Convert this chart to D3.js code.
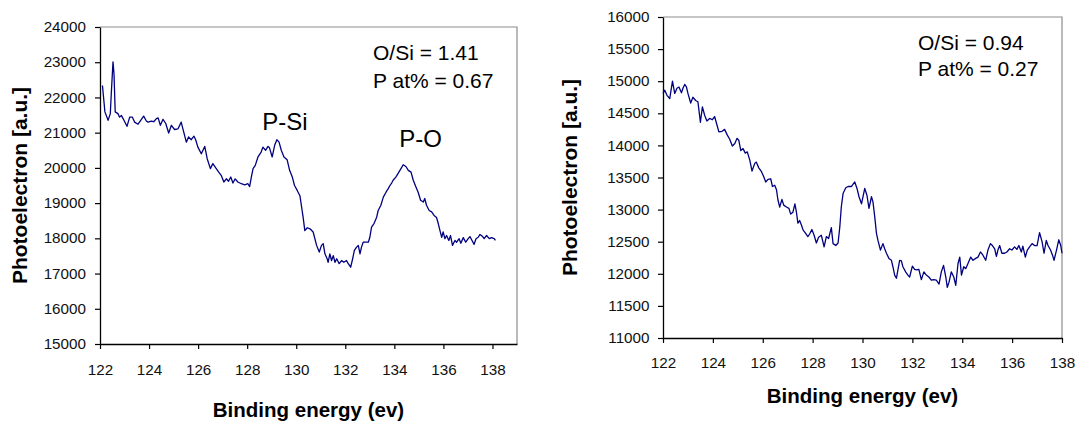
<!DOCTYPE html>
<html>
<head>
<meta charset="utf-8">
<script src="https://cdn.jsdelivr.net/npm/d3@7"></script>
<style>
  body { margin: 0; background: #fff; }
  svg { display: block; font-family: "Liberation Sans", Arial, sans-serif; }
</style>
</head>
<body>
<svg id="chart" width="1078" height="423"></svg>
<script>
// left spectrum (higher P content)
var leftEnergy = [122.10,122.20,122.33,122.42,122.46,122.53,122.57,122.62,122.73,122.80,122.87,122.94,123.10,123.21,123.32,123.41,123.55,123.66,123.78,123.89,123.96,124.09,124.19,124.30,124.37,124.46,124.57,124.68,124.80,124.91,125.04,125.18,125.31,125.38,125.52,125.61,125.72,125.83,125.90,125.99,126.13,126.27,126.37,126.50,126.60,126.74,126.84,126.94,127.05,127.15,127.24,127.33,127.42,127.51,127.62,127.76,127.90,128.03,128.10,128.17,128.24,128.33,128.44,128.57,128.64,128.75,128.85,128.91,129.02,129.12,129.21,129.30,129.39,129.50,129.63,129.73,129.84,129.93,130.04,130.15,130.24,130.28,130.35,130.45,130.56,130.69,130.83,130.94,131.03,131.10,131.17,131.26,131.30,131.37,131.44,131.51,131.58,131.65,131.75,131.85,131.94,132.05,132.12,132.22,132.30,132.37,132.46,132.53,132.60,132.66,132.73,132.84,132.94,133.00,133.07,133.17,133.28,133.34,133.45,133.55,133.66,133.75,133.82,133.89,133.95,134.06,134.16,134.27,134.36,134.47,134.57,134.68,134.77,134.88,134.97,135.07,135.18,135.24,135.31,135.42,135.52,135.62,135.72,135.79,135.86,135.93,135.99,136.06,136.13,136.22,136.29,136.37,136.47,136.54,136.64,136.71,136.81,136.91,137.01,137.08,137.15,137.25,137.33,137.42,137.49,137.60,137.66,137.76,137.87,137.96,138.07,138.12];
var leftCounts = [22340,21590,21350,21540,22110,23010,22680,21590,21540,21440,21490,21400,21180,21440,21440,21300,21240,21350,21470,21330,21300,21330,21310,21400,21420,21210,21380,21260,20990,21210,21090,21110,21300,21110,20730,20880,20800,20900,20800,20590,20400,20610,20260,19980,20120,19980,19880,19790,19600,19690,19620,19740,19570,19690,19600,19550,19520,19550,19470,19740,19980,20070,20310,20450,20590,20500,20610,20570,20310,20640,20800,20730,20500,20310,20230,19930,19740,19500,19360,19210,18790,18600,18220,18300,18270,18180,17800,17610,17800,17850,17560,17420,17320,17560,17370,17510,17320,17420,17280,17370,17320,17370,17280,17180,17420,17660,17750,17800,17560,17750,17890,17890,17890,18030,18320,18420,18600,18790,18940,19170,19310,19410,19500,19570,19650,19740,19850,19980,20090,20040,19930,19880,19650,19460,19310,19080,19030,19130,18940,18790,18750,18650,18590,18420,18220,18030,18180,17990,18080,17940,18080,17800,17940,17890,17990,17860,18020,17890,17990,18050,17960,17830,17990,18030,18110,18050,17990,18080,17990,18020,17990,17940];

// right spectrum
var rightEnergy = [122.00,122.07,122.16,122.27,122.38,122.47,122.56,122.64,122.74,122.80,122.87,122.94,123.00,123.11,123.20,123.31,123.40,123.50,123.58,123.67,123.76,123.87,123.98,124.07,124.17,124.24,124.37,124.47,124.58,124.67,124.78,124.88,124.97,125.04,125.12,125.21,125.30,125.38,125.48,125.57,125.68,125.74,125.84,125.95,126.04,126.12,126.21,126.32,126.39,126.48,126.55,126.61,126.68,126.77,126.84,126.95,127.05,127.12,127.21,127.29,127.35,127.41,127.48,127.55,127.62,127.72,127.81,127.88,127.97,128.06,128.15,128.24,128.35,128.46,128.55,128.64,128.75,128.82,128.93,129.02,129.09,129.15,129.22,129.33,129.42,129.56,129.69,129.78,129.86,129.96,130.09,130.18,130.26,130.36,130.42,130.49,130.56,130.62,130.72,130.82,130.89,130.96,131.06,131.16,131.22,131.29,131.36,131.42,131.49,131.56,131.62,131.73,131.82,131.89,132.00,132.09,132.18,132.26,132.36,132.46,132.56,132.66,132.76,132.85,132.96,133.07,133.16,133.25,133.34,133.40,133.47,133.56,133.66,133.74,133.83,133.90,133.97,134.06,134.14,134.23,134.34,134.43,134.54,134.63,134.73,134.83,134.94,135.03,135.13,135.21,135.30,135.37,135.43,135.50,135.59,135.70,135.79,135.90,135.99,136.10,136.19,136.27,136.37,136.43,136.53,136.61,136.70,136.80,136.90,137.00,137.10,137.20,137.28,137.37,137.44,137.54,137.62,137.68,137.78,137.87,137.95,138.00];
var rightCounts = [14810,14860,14780,14730,15000,14810,14890,14910,14820,14890,14950,14910,14810,14660,14750,14700,14680,14360,14600,14470,14380,14420,14400,14450,14310,14210,14220,14250,14160,14100,13990,14030,14110,14080,13920,13950,13880,13900,13770,13600,13720,13740,13650,13590,13510,13430,13470,13480,13360,13380,13310,13150,13040,13160,13070,13040,13020,12930,12960,13090,12960,12790,12830,12760,12680,12630,12580,12620,12690,12600,12480,12570,12600,12420,12580,12550,12720,12470,12440,12480,12730,13040,13250,13340,13360,13360,13430,13330,13200,13090,13330,13220,13020,13200,13120,12890,12630,12520,12370,12470,12390,12320,12240,12210,12110,11980,11930,12060,12210,12200,12110,12030,11980,11950,12120,12070,12060,12070,11910,12030,11980,11950,11900,11910,11900,11840,12030,12130,11950,11790,11870,12030,11950,11820,12160,12260,11980,12110,12080,12160,12260,12210,12240,12260,12340,12290,12210,12370,12470,12440,12390,12270,12370,12440,12320,12320,12340,12390,12370,12420,12380,12440,12340,12430,12260,12370,12420,12470,12440,12440,12640,12500,12320,12520,12440,12370,12290,12210,12370,12530,12440,12320];

var xTicks = [122, 124, 126, 128, 130, 132, 134, 136, 138];
var leftYTicks = [15000, 16000, 17000, 18000, 19000, 20000, 21000, 22000, 23000, 24000];
var rightYTicks = [11000, 11500, 12000, 12500, 13000, 13500, 14000, 14500, 15000, 15500, 16000];

var leftNotes = ["O/Si = 1.41", "P at% = 0.67"];
var rightNotes = ["O/Si = 0.94", "P at% = 0.27"];
var peakNames = ["P-Si", "P-O"];
var peakEnergy = [129.54, 135.07];
var peakCounts = [21065, 20591];

var yTitle = "Photoelectron [a.u.]";
var xTitle = "Binding energy (ev)";

var svg = d3.select("#chart");

// widen text a little, the source glyphs are stretched sideways
function stretch(sel, k) {
  sel.each(function () {
    var w = this.getComputedTextLength();
    d3.select(this).attr("textLength", w * k).attr("lengthAdjust", "spacingAndGlyphs");
  });
}

function drawPanel(cfg) {
  var box = cfg.box;

  var xScale = d3.scaleLinear().domain(cfg.xDomain).range([box.left, box.right]);
  var yScale = d3.scaleLinear().domain(cfg.yDomain).range([box.bottom, box.top]);

  var g = svg.append("g");

  // grey frame on top and right
  g.append("path")
    .attr("d", "M" + box.left + "," + box.top + "H" + box.right + "V" + box.bottom)
    .attr("fill", "none")
    .attr("stroke", "#8c8c8c")
    .attr("stroke-width", 1.2);

  var yAxis = d3.axisLeft(yScale)
    .tickValues(cfg.yTicks)
    .tickFormat(d3.format("d"))
    .tickSizeInner(5)
    .tickSizeOuter(0)
    .tickPadding(cfg.yPad);

  var yG = g.append("g")
    .attr("transform", "translate(" + box.left + ",0)")
    .call(yAxis);

  var xAxis = d3.axisBottom(xScale)
    .tickValues(xTicks)
    .tickFormat(d3.format("d"))
    .tickSizeInner(5)
    .tickSizeOuter(0)
    .tickPadding(cfg.xPad);

  var xG = g.append("g")
    .attr("transform", "translate(0," + box.bottom + ")")
    .call(xAxis);

  [xG, yG].forEach(function (a) {
    a.select(".domain").attr("stroke", "#000").attr("stroke-width", 1.3);
    a.selectAll(".tick line").attr("stroke", "#000").attr("stroke-width", 1.2);
    a.selectAll(".tick text")
      .attr("fill", "#111")
      .style("font-family", "'Liberation Sans', Arial, sans-serif")
      .style("font-size", "14.5px");
    stretch(a.selectAll(".tick text"), 1.05);
  });

  var line = d3.line()
    .x(function (d) { return xScale(d[0]); })
    .y(function (d) { return yScale(d[1]); });

  var pts = cfg.energy.map(function (e, i) { return [e, cfg.counts[i]]; });

  g.append("path")
    .datum(pts)
    .attr("d", line)
    .attr("fill", "none")
    .attr("stroke", "#000080")
    .attr("stroke-width", 1.3)
    .attr("stroke-linejoin", "round");

  // axis titles
  g.append("text")
    .attr("transform", "translate(" + cfg.yTitleX + "," + (box.top + box.bottom) / 2 + ") rotate(-90)")
    .attr("text-anchor", "middle")
    .style("font-weight", "bold")
    .style("font-size", "21px")
    .text(yTitle);

  g.append("text")
    .attr("x", (box.left + box.right) / 2)
    .attr("y", cfg.xTitleY)
    .attr("text-anchor", "middle")
    .style("font-weight", "bold")
    .style("font-size", "20.5px")
    .text(xTitle);

  // composition notes
  g.selectAll(".note")
    .data(cfg.notes)
    .enter()
    .append("text")
    .attr("class", "note")
    .attr("x", box.right - 144)
    .attr("y", function (d, i) { return box.top + 33 + i * cfg.noteGap; })
    .style("font-size", "21px")
    .text(function (d) { return d; });

  if (cfg.peaks) {
    g.selectAll(".peak")
      .data(peakNames)
      .enter()
      .append("text")
      .attr("class", "peak")
      .attr("x", function (d, i) { return xScale(peakEnergy[i]); })
      .attr("y", function (d, i) { return yScale(peakCounts[i]); })
      .attr("text-anchor", "middle")
      .style("font-size", "24px")
      .text(function (d) { return d; });
  }
}

drawPanel({
  box: { left: 100, top: 27, right: 517, bottom: 344 },
  xDomain: [122, 139],
  yDomain: [15000, 24000],
  yTicks: leftYTicks,
  yPad: 9,
  xPad: 16,
  energy: leftEnergy,
  counts: leftCounts,
  yTitleX: 27,
  xTitleY: 417,
  notes: leftNotes,
  noteGap: 28,
  peaks: true
});

drawPanel({
  box: { left: 663, top: 17, right: 1062, bottom: 338 },
  xDomain: [122, 138],
  yDomain: [11000, 16000],
  yTicks: rightYTicks,
  yPad: 8.5,
  xPad: 15,
  energy: rightEnergy,
  counts: rightCounts,
  yTitleX: 577,
  xTitleY: 403,
  notes: rightNotes,
  noteGap: 26,
  peaks: false
});
</script>
</body>
</html>
